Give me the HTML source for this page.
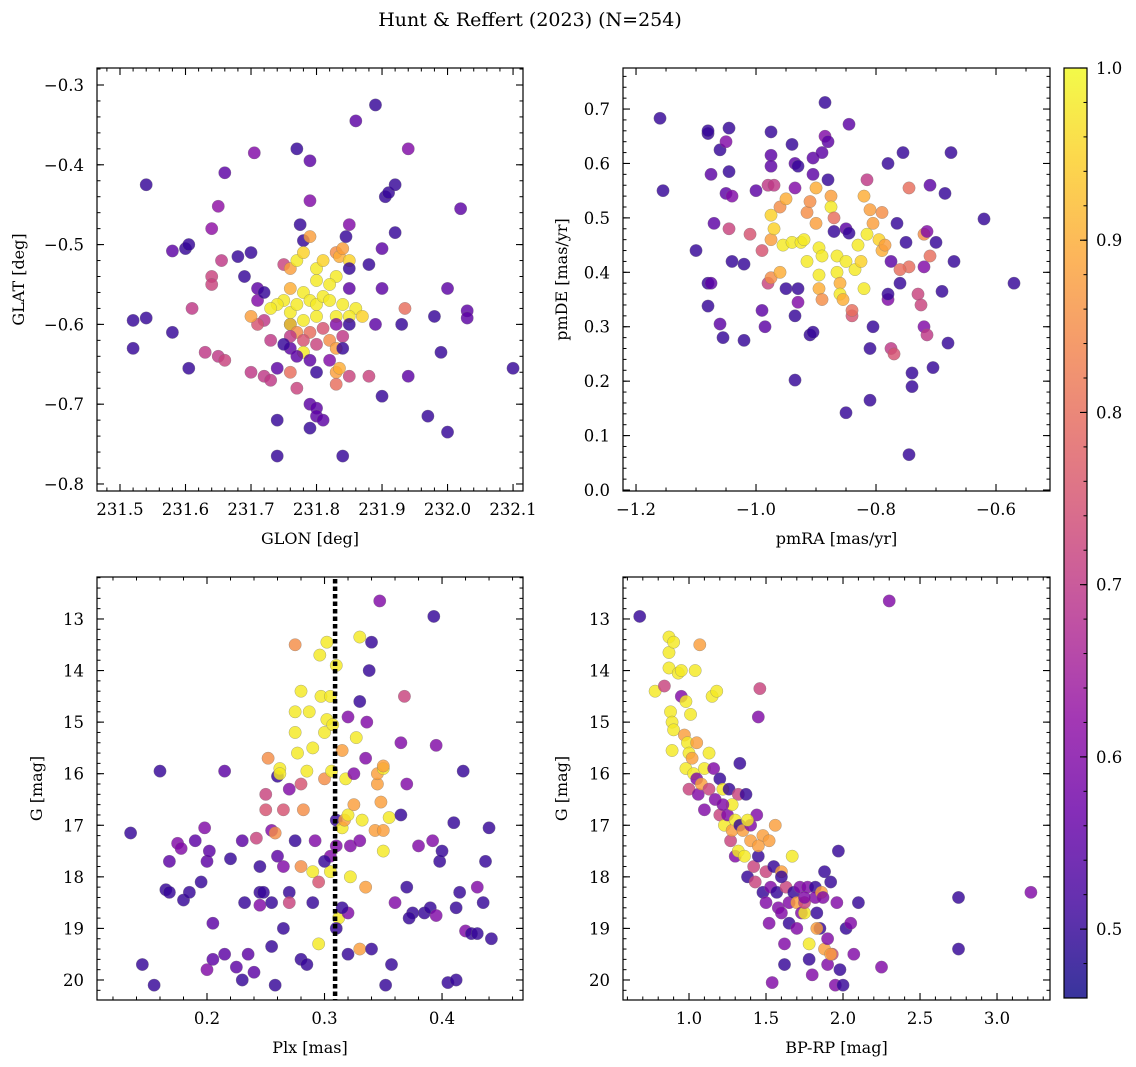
<!DOCTYPE html>
<html><head><meta charset="utf-8">
<style>
body{margin:0;background:#fff;}
svg{display:block;font-family:"DejaVu Serif","Liberation Serif",serif;}
</style></head>
<body>
<svg id="fig" width="1136" height="1067" viewBox="0 0 1136 1067" xmlns="http://www.w3.org/2000/svg">
<text x="530" y="26" font-size="19" text-anchor="middle">Hunt &amp; Reffert (2023) (N=254)</text>
</svg>
<script>
// ---- Panel 1: GLON / GLAT ----
const p1Glon=[231.54,231.52,231.54,231.52,231.58,231.60,231.605,231.58,231.605,231.61,231.63,231.64,231.64,231.65,231.66,231.64,231.65,231.66,231.655,231.68,231.69,231.7,231.705,231.71,231.71,231.72,231.72,231.73,231.71,231.70,231.7,231.72,231.73,231.74,231.74,231.74,231.76,231.76,231.77,231.775,231.78,231.79,231.79,231.75,231.76,231.77,231.76,231.78,231.79,231.8,231.81,231.8,231.83,231.835,231.84,231.85,231.83,231.82,231.78,231.75,231.74,231.73,231.76,231.77,231.79,231.8,231.81,231.82,231.84,231.86,231.87,231.85,231.83,231.8,231.78,231.76,231.77,231.79,231.81,231.78,231.76,231.8,231.82,231.83,231.82,231.78,231.79,231.77,231.75,231.76,231.77,231.8,231.79,231.8,231.8,231.81,231.79,231.83,231.83,231.835,231.85,231.84,231.85,231.83,231.84,231.85,231.85,231.85,231.845,231.86,231.84,231.88,231.88,231.89,231.89,231.9,231.905,231.91,231.92,231.92,231.93,231.9,231.935,231.94,231.94,231.97,231.98,231.99,232.0,232.0,232.02,232.03,232.03,232.1,231.9];
const p1Glat=[-0.425,-0.595,-0.592,-0.63,-0.61,-0.505,-0.50,-0.508,-0.655,-0.58,-0.635,-0.54,-0.55,-0.64,-0.645,-0.48,-0.452,-0.41,-0.52,-0.515,-0.54,-0.51,-0.385,-0.555,-0.57,-0.56,-0.595,-0.62,-0.60,-0.59,-0.66,-0.665,-0.67,-0.655,-0.72,-0.765,-0.60,-0.63,-0.38,-0.475,-0.495,-0.445,-0.395,-0.525,-0.53,-0.52,-0.555,-0.51,-0.49,-0.53,-0.52,-0.545,-0.51,-0.515,-0.505,-0.52,-0.54,-0.55,-0.56,-0.57,-0.575,-0.58,-0.585,-0.575,-0.57,-0.575,-0.565,-0.57,-0.575,-0.58,-0.59,-0.59,-0.59,-0.59,-0.595,-0.6,-0.61,-0.61,-0.605,-0.62,-0.615,-0.625,-0.62,-0.63,-0.645,-0.635,-0.645,-0.64,-0.625,-0.66,-0.68,-0.66,-0.70,-0.705,-0.715,-0.72,-0.73,-0.66,-0.675,-0.655,-0.665,-0.615,-0.60,-0.60,-0.63,-0.555,-0.53,-0.475,-0.49,-0.345,-0.765,-0.525,-0.665,-0.325,-0.60,-0.505,-0.44,-0.435,-0.425,-0.485,-0.6,-0.555,-0.58,-0.38,-0.665,-0.715,-0.59,-0.635,-0.735,-0.555,-0.455,-0.583,-0.592,-0.655,-0.69];
const p1Prob=[.5,.5,.5,.5,.5,.5,.5,.55,.5,.7,.7,.72,.72,.7,.72,.62,.62,.55,.7,.5,.5,.5,.6,.55,.6,.5,.7,.7,.75,.88,.7,.7,.7,.55,.5,.5,.5,.55,.5,.5,.5,.6,.55,.72,.88,.98,.9,.95,.88,.98,.95,.98,.85,.9,.88,.95,.98,.98,.98,.98,.98,.98,.98,.98,.98,.98,.98,.98,.98,.98,.95,.98,.98,.98,.98,.95,.85,.8,.75,.75,.7,.72,.85,.88,.6,.98,.55,.55,.5,.8,.72,.5,.55,.55,.55,.55,.5,.88,.8,.9,.72,.7,.5,.6,.5,.55,.5,.6,.5,.55,.5,.5,.72,.5,.55,.55,.5,.5,.5,.5,.5,.55,.8,.6,.55,.5,.5,.5,.5,.55,.55,.55,.55,.5,.5];
const p1XTicks=[231.5,231.6,231.7,231.8,231.9,232.0,232.1];
const p1YTicks=[-0.3,-0.4,-0.5,-0.6,-0.7,-0.8];

// ---- Panel 2: pmRA / pmDE ----
const p2Pmra=[-1.16,-1.155,-1.10,-1.08,-1.08,-1.08,-1.075,-1.08,-1.075,-1.07,-1.06,-1.06,-1.055,-1.05,-1.045,-1.045,-1.05,-1.04,-1.045,-1.04,-1.02,-1.02,-1.01,-1.0,-0.99,-0.99,-0.985,-0.98,-0.975,-0.975,-0.97,-0.975,-0.98,-0.97,-0.975,-0.975,-0.975,-0.96,-0.96,-0.95,-0.955,-0.95,-0.94,-0.935,-0.94,-0.935,-0.93,-0.935,-0.93,-0.93,-0.935,-0.925,-0.92,-0.915,-0.915,-0.91,-0.905,-0.905,-0.91,-0.905,-0.9,-0.9,-0.895,-0.89,-0.895,-0.895,-0.89,-0.89,-0.885,-0.885,-0.88,-0.88,-0.875,-0.875,-0.87,-0.87,-0.865,-0.865,-0.86,-0.86,-0.855,-0.85,-0.85,-0.845,-0.845,-0.85,-0.84,-0.84,-0.835,-0.83,-0.825,-0.82,-0.815,-0.82,-0.815,-0.81,-0.805,-0.805,-0.81,-0.81,-0.795,-0.79,-0.79,-0.785,-0.78,-0.78,-0.78,-0.775,-0.775,-0.77,-0.765,-0.76,-0.755,-0.75,-0.745,-0.745,-0.745,-0.74,-0.74,-0.73,-0.725,-0.72,-0.715,-0.72,-0.71,-0.71,-0.715,-0.705,-0.7,-0.69,-0.685,-0.68,-0.675,-0.67,-0.62,-0.57,-0.76,-0.72];
const p2Pmde=[0.683,0.55,0.44,0.655,0.66,0.38,0.38,0.338,0.58,0.49,0.625,0.305,0.28,0.64,0.665,0.585,0.545,0.54,0.48,0.42,0.415,0.275,0.47,0.55,0.44,0.33,0.3,0.38,0.39,0.46,0.48,0.505,0.56,0.56,0.615,0.595,0.658,0.52,0.40,0.37,0.45,0.535,0.455,0.555,0.635,0.6,0.595,0.32,0.37,0.345,0.202,0.455,0.46,0.42,0.51,0.53,0.58,0.61,0.285,0.29,0.555,0.49,0.445,0.43,0.395,0.37,0.35,0.62,0.65,0.712,0.64,0.57,0.54,0.52,0.50,0.475,0.43,0.40,0.38,0.36,0.35,0.42,0.48,0.472,0.672,0.142,0.32,0.33,0.405,0.45,0.42,0.37,0.47,0.54,0.57,0.515,0.49,0.3,0.26,0.165,0.46,0.44,0.51,0.45,0.6,0.35,0.36,0.42,0.26,0.25,0.49,0.38,0.62,0.455,0.555,0.41,0.065,0.215,0.19,0.36,0.34,0.47,0.475,0.3,0.43,0.56,0.285,0.225,0.455,0.365,0.545,0.27,0.62,0.42,0.498,0.38,0.405,0.41];
const p2Prob=[.5,.5,.5,.5,.5,.5,.55,.5,.55,.55,.5,.55,.5,.6,.5,.5,.55,.6,.72,.5,.5,.5,.75,.55,.75,.55,.55,.72,.85,.88,.95,.95,.7,.7,.55,.55,.5,.85,.9,.5,.98,.9,.98,.6,.5,.55,.5,.5,.5,.6,.5,.98,.98,.98,.85,.85,.55,.55,.5,.5,.9,.88,.98,.98,.98,.9,.85,.55,.6,.5,.55,.5,.88,.98,.8,.5,.98,.98,.9,.98,.9,.98,.55,.5,.55,.5,.75,.8,.98,.98,.95,.98,.98,.9,.7,.88,.88,.5,.5,.5,.95,.9,.85,.88,.5,.6,.5,.55,.7,.75,.5,.5,.5,.5,.8,.8,.5,.5,.5,.72,.72,.85,.6,.6,.8,.55,.7,.5,.5,.5,.5,.5,.5,.5,.5,.5,.8,.6];
const p2XTicks=[-1.2,-1.0,-0.8,-0.6];
const p2YTicks=[0.0,0.1,0.2,0.3,0.4,0.5,0.6,0.7];

// ---- Panel 3: Plx / G ----
const p3Plx=[0.135,0.145,0.155,0.16,0.165,0.168,0.168,0.175,0.178,0.18,0.185,0.19,0.195,0.198,0.2,0.2,0.202,0.205,0.205,0.215,0.215,0.22,0.225,0.23,0.235,0.24,0.242,0.245,0.245,0.25,0.25,0.252,0.255,0.255,0.258,0.26,0.26,0.262,0.262,0.265,0.265,0.27,0.27,0.275,0.275,0.275,0.277,0.28,0.28,0.28,0.282,0.285,0.287,0.29,0.29,0.292,0.295,0.295,0.296,0.297,0.3,0.3,0.302,0.302,0.305,0.305,0.305,0.306,0.307,0.31,0.31,0.31,0.312,0.315,0.315,0.317,0.318,0.32,0.32,0.32,0.322,0.322,0.325,0.325,0.327,0.33,0.33,0.33,0.332,0.335,0.335,0.336,0.338,0.34,0.34,0.343,0.345,0.345,0.347,0.348,0.35,0.35,0.35,0.35,0.352,0.355,0.36,0.365,0.368,0.37,0.37,0.375,0.38,0.385,0.39,0.392,0.393,0.395,0.395,0.398,0.4,0.405,0.41,0.412,0.415,0.418,0.42,0.425,0.43,0.435,0.437,0.44,0.442,0.412,0.43,0.357,0.372,0.265,0.232,0.248,0.245,0.28,0.285,0.27,0.3,0.31,0.315,0.32,0.29,0.275,0.255,0.23,0.258,0.33,0.365];
const p3G=[17.15,19.7,20.1,15.95,18.25,18.3,17.7,17.35,17.45,18.45,18.3,17.3,18.1,17.05,19.8,17.7,17.5,18.9,19.6,15.95,19.5,17.65,19.75,17.3,19.5,19.85,17.25,18.3,18.55,16.7,16.4,15.7,17.1,19.35,17.15,16.05,17.6,15.9,16.0,17.8,16.7,18.3,18.5,13.5,14.8,15.2,15.6,14.4,16.2,17.8,16.7,15.95,14.8,17.9,15.5,17.3,18.1,19.3,13.7,14.5,15.2,16.1,13.45,14.95,14.5,17.6,17.9,15.95,15.05,16.9,17.4,13.9,18.8,15.55,17.05,16.9,16.1,14.9,16.8,18.7,17.4,18.0,16.6,16.0,15.3,13.35,19.4,17.3,16.9,15.7,18.2,15.0,14.0,13.45,19.4,17.1,16.2,16.0,12.65,16.55,15.9,17.5,15.85,17.1,20.1,16.85,18.5,16.8,14.5,16.2,18.2,18.7,17.4,18.7,18.6,17.3,12.95,15.45,18.75,17.7,17.5,20.05,16.95,18.6,18.3,15.95,19.05,19.1,18.2,18.5,17.7,17.05,19.2,20.0,19.1,19.7,18.8,19.0,18.5,18.3,17.8,19.6,19.7,16.3,17.7,19.0,18.6,19.5,18.5,17.3,18.5,20.0,20.1,14.6,15.4];
const p3Prob=[.5,.5,.5,.5,.5,.5,.55,.6,.6,.5,.5,.55,.5,.6,.6,.55,.55,.55,.55,.55,.55,.5,.55,.55,.55,.55,.72,.5,.6,.75,.72,.85,.6,.5,.85,.5,.55,.98,.98,.6,.75,.5,.72,.85,.98,.98,.98,.98,.75,.85,.85,.98,.98,.98,.98,.6,.75,.98,.98,.98,.98,.85,.98,.98,.98,.6,.98,.98,.98,.5,.6,.98,.98,.88,.98,.88,.98,.6,.98,.6,.6,.98,.88,.6,.98,.98,.88,.6,.98,.6,.88,.6,.5,.5,.5,.88,.88,.88,.6,.88,.98,.98,.88,.88,.5,.98,.6,.5,.72,.6,.5,.5,.6,.5,.5,.6,.5,.6,.6,.5,.5,.5,.5,.5,.5,.5,.6,.5,.6,.5,.5,.5,.5,.5,.5,.5,.5,.5,.5,.5,.5,.5,.5,.6,.5,.5,.5,.5,.5,.5,.5,.5,.5,.5,.6,.6,.72,.72];
const p3XTicks=[0.2,0.3,0.4];
const p3YTicks=[13,14,15,16,17,18,19,20];
const p3PlxRef=[0.309];

// ---- Panel 4: BP-RP / G ----
const p4Bprp=[0.68,0.78,0.84,0.87,0.87,0.87,0.88,0.89,0.9,0.89,0.9,0.93,0.95,0.95,0.97,0.98,0.98,0.99,1.0,1.0,1.01,1.02,1.03,1.04,1.05,1.05,1.06,1.07,1.08,1.1,1.1,1.13,1.13,1.15,1.16,1.17,1.18,1.2,1.2,1.22,1.23,1.25,1.26,1.27,1.28,1.3,1.3,1.32,1.32,1.33,1.33,1.35,1.36,1.37,1.38,1.4,1.4,1.42,1.43,1.44,1.45,1.45,1.46,1.48,1.48,1.5,1.5,1.52,1.52,1.53,1.54,1.55,1.57,1.58,1.6,1.6,1.62,1.62,1.63,1.65,1.65,1.67,1.68,1.7,1.7,1.72,1.73,1.75,1.75,1.77,1.78,1.78,1.8,1.82,1.82,1.83,1.85,1.86,1.87,1.88,1.88,1.9,1.9,1.92,1.93,1.95,1.96,1.97,1.98,2.0,2.02,2.05,2.07,2.1,2.25,2.3,2.75,2.75,3.22,1.56,1.45,1.38,1.28,1.22,1.6,1.75,1.83,1.92];
const p4G=[12.95,14.4,14.3,13.35,13.65,13.95,14.8,15.0,15.15,15.55,13.45,14.05,14.0,14.5,15.25,14.6,15.9,15.4,15.6,16.3,14.85,15.7,16.0,14.0,15.4,16.1,16.4,13.5,16.2,15.9,16.7,15.6,16.3,14.5,15.9,16.5,14.4,16.1,16.8,16.3,17.0,16.8,16.3,17.3,17.1,16.9,17.6,16.4,17.5,17.0,15.8,17.1,17.6,16.4,18.0,17.0,17.3,17.8,18.1,16.8,17.6,14.9,14.35,18.3,17.2,17.9,18.5,17.3,18.9,18.2,20.05,17.8,18.3,18.6,17.9,18.7,19.3,19.7,18.2,18.9,18.5,17.6,18.3,19.0,18.5,18.2,18.7,18.7,18.5,18.2,19.3,19.6,19.9,18.2,18.4,18.7,19.0,18.3,18.4,17.9,19.4,19.2,19.7,18.1,19.5,20.1,18.5,17.5,19.8,20.1,19.0,18.9,19.5,18.5,19.75,12.65,18.4,19.4,18.3,17.0,17.4,16.9,16.6,16.6,18.0,18.4,19.0,19.5];
const p4Prob=[.5,.98,.72,.98,.98,.98,.98,.98,.98,.98,.98,.98,.98,.6,.88,.98,.98,.98,.98,.72,.98,.88,.98,.98,.88,.6,.6,.88,.88,.98,.6,.98,.72,.98,.6,.6,.98,.5,.72,.98,.98,.6,.5,.72,.88,.98,.6,.72,.98,.5,.5,.88,.98,.5,.5,.6,.88,.72,.72,.6,.5,.6,.72,.5,.88,.72,.6,.88,.6,.6,.6,.5,.5,.6,.88,.6,.6,.5,.72,.5,.6,.98,.5,.6,.88,.6,.6,.98,.72,.6,.98,.5,.6,.5,.6,.5,.5,.88,.6,.5,.88,.6,.6,.5,.72,.6,.6,.5,.5,.5,.5,.6,.6,.5,.6,.6,.5,.5,.6,.88,.88,.98,.98,.6,.5,.6,.88,.88];
const p4XTicks=[1.0,1.5,2.0,2.5,3.0];
const p4YTicks=[13,14,15,16,17,18,19,20];

// ---- Colorbar ----
const cbTicks=[0.5,0.6,0.7,0.8,0.9,1.0];
const cbMin=0.46, cbMax=1.0;

const NS="http://www.w3.org/2000/svg";
const svg=document.getElementById('fig');
function mk(tag,attrs,parent){const e=document.createElementNS(NS,tag);for(const k in attrs)e.setAttribute(k,attrs[k]);(parent||svg).appendChild(e);return e;}

const stops=["#0d0887","#41049d","#6a00a8","#8f0da4","#b12a90","#cc4778","#e16462","#f2844b","#fca636","#fcce25","#f0f921"];
function hex(h){return [1,3,5].map(i=>parseInt(h.substr(i,2),16));}
function plasma(t){t=Math.max(0,Math.min(1,t));const s=t*10,i=Math.min(9,Math.floor(s)),f=s-i;const a=hex(stops[i]),b=hex(stops[i+1]);return 'rgb('+a.map((v,k)=>Math.round(v+(b[k]-v)*f)).join(',')+')';}
function pcol(p){return plasma((p-cbMin)/(cbMax-cbMin));}

function lin(d0,d1,r0,r1){return v=>r0+(v-d0)/(d1-d0)*(r1-r0);}

const vlines=[];
function panel(o){
  const g=mk('g',{});
  
  
  const sx=lin(o.xd[0],o.xd[1],o.x0,o.x1), sy=lin(o.yd[0],o.yd[1],o.y1,o.y0);
  const clipId=o.name+'-clip';
  const cp=mk('clipPath',{id:clipId},g);mk('rect',{x:o.x0,y:o.y0,width:o.x1-o.x0,height:o.y1-o.y0},cp);
  const pts=mk('g',{'clip-path':'url(#'+clipId+')'},g);
  
  
  for(let i=0;i<o.xs.length;i++){
    const c=mk('circle',{cx:sx(o.xs[i]),cy:sy(o.ys[i]),r:6.2,fill:pcol(o.ps[i]),'fill-opacity':0.82,stroke:'#777','stroke-width':0.5,'stroke-opacity':0.6},pts);
    
    
  }
  if(o.vline){for(const v of o.vline){vlines.push({x:sx(v),y0:o.y0,y1:o.y1});}}
  const fr=mk('rect',{x:o.x0,y:o.y0,width:o.x1-o.x0,height:o.y1-o.y0,fill:'none',stroke:'#000','stroke-width':1.2},g);
  
  
  const lo=(a,b)=>Math.min(a,b),hi=(a,b)=>Math.max(a,b);
  for(let v=Math.ceil(lo(...o.xd)/o.xm)*o.xm;v<=hi(...o.xd);v+=o.xm){const x=sx(v);
    mk('line',{x1:x,x2:x,y1:o.y1,y2:o.y1-3.5,stroke:'#000','stroke-width':1},g);mk('line',{x1:x,x2:x,y1:o.y0,y2:o.y0+3.5,stroke:'#000','stroke-width':1},g);}
  for(let v=Math.ceil(lo(...o.yd)/o.ym)*o.ym;v<=hi(...o.yd);v+=o.ym){const y=sy(v);
    mk('line',{x1:o.x0,x2:o.x0+3.5,y1:y,y2:y,stroke:'#000','stroke-width':1},g);mk('line',{x1:o.x1,x2:o.x1-3.5,y1:y,y2:y,stroke:'#000','stroke-width':1},g);}
  for(const v of o.xt){const x=sx(v);
    mk('line',{x1:x,x2:x,y1:o.y1,y2:o.y1-7,stroke:'#000','stroke-width':1.1},g);mk('line',{x1:x,x2:x,y1:o.y0,y2:o.y0+7,stroke:'#000','stroke-width':1.1},g);
    const t=mk('text',{x:x,y:o.y1+24,'font-size':16.5,'text-anchor':'middle'},g);t.textContent=o.xf(v).replace('-','\u2212');
    
    }
  for(const v of o.yt){const y=sy(v);
    mk('line',{x1:o.x0,x2:o.x0+7,y1:y,y2:y,stroke:'#000','stroke-width':1.1},g);mk('line',{x1:o.x1,x2:o.x1-7,y1:y,y2:y,stroke:'#000','stroke-width':1.1},g);
    const t=mk('text',{x:o.x0-13,y:y+6,'font-size':16.5,'text-anchor':'end'},g);t.textContent=o.yf(v).replace('-','\u2212');
    
    }
  const xl=mk('text',{x:(o.x0+o.x1)/2,y:o.y1+53,'font-size':16,'text-anchor':'middle'},g);xl.textContent=o.xl;
  
  
  const yx=o.ylx, yy=(o.y0+o.y1)/2;
  const yl=mk('text',{x:yx,y:yy,'font-size':16,'text-anchor':'middle',transform:'rotate(-90 '+yx+' '+yy+')'},g);yl.textContent=o.yl;
  
  
}
const f1=v=>v.toFixed(1);
panel({name:'glon-glat-panel',x0:97,x1:523,y0:68,y1:491,xd:[231.4649,232.1152],yd:[-0.8088,-0.2787],xs:p1Glon,ys:p1Glat,ps:p1Prob,xt:p1XTicks,yt:p1YTicks,xm:0.02,ym:0.02,xf:f1,yf:f1,xl:'GLON [deg]',yl:'GLAT [deg]',ylx:24});
panel({name:'proper-motion-panel',x0:623,x1:1050,y0:68,y1:491,xd:[-1.2217,-0.51],yd:[-0.0018,0.7754],xs:p2Pmra,ys:p2Pmde,ps:p2Prob,xt:p2XTicks,yt:p2YTicks,xm:0.05,ym:0.02,xf:f1,yf:f1,xl:'pmRA [mas/yr]',yl:'pmDE [mas/yr]',ylx:567});
panel({name:'parallax-mag-panel',x0:97,x1:523,y0:577,y1:1000,xd:[0.1064,0.4689],yd:[20.388,12.186],xs:p3Plx,ys:p3G,ps:p3Prob,xt:p3XTicks,yt:p3YTicks,xm:0.02,ym:0.2,xf:f1,yf:v=>String(v),xl:'Plx [mas]',yl:'G [mag]',ylx:42,vline:p3PlxRef});
panel({name:'cmd-panel',x0:623,x1:1050,y0:577,y1:1000,xd:[0.5714,3.344],yd:[20.388,12.186],xs:p4Bprp,ys:p4G,ps:p4Prob,xt:p4XTicks,yt:p4YTicks,xm:0.1,ym:0.2,xf:f1,yf:v=>String(v),xl:'BP-RP [mag]',yl:'G [mag]',ylx:567});

for(const v of vlines){
  const l=mk('line',{x1:v.x,x2:v.x,y1:v.y0+2,y2:v.y1,stroke:'#000','stroke-width':4.5,'stroke-dasharray':'4.5 3'});
  
  
}

// colorbar
const cb=mk('g',{});


const cx0=1064,cx1=1087,cy0=68,cy1=998;
const defs=mk('defs',{},cb);
const lg=mk('linearGradient',{id:'cbgrad',x1:0,y1:1,x2:0,y2:0},defs);
for(let i=0;i<=20;i++){mk('stop',{offset:i/20,'stop-color':plasma(i/20),'stop-opacity':0.82},lg);}
mk('rect',{x:cx0,y:cy0,width:cx1-cx0,height:cy1-cy0,fill:'url(#cbgrad)',stroke:'#000','stroke-width':1.2},cb);
const cs=lin(cbMin,cbMax,cy1,cy0);
for(let v=0.46;v<=1.0001;v+=0.02){const y=cs(v);mk('line',{x1:cx1,x2:cx1-3.5,y1:y,y2:y,stroke:'#000','stroke-width':1},cb);}
for(const v of cbTicks){const y=cs(v);mk('line',{x1:cx1,x2:cx1-7,y1:y,y2:y,stroke:'#000','stroke-width':1.1},cb);
  const t=mk('text',{x:cx1+9,y:y+6,'font-size':16.5},cb);t.textContent=v.toFixed(1);
  
  }
</script>
</body></html>
